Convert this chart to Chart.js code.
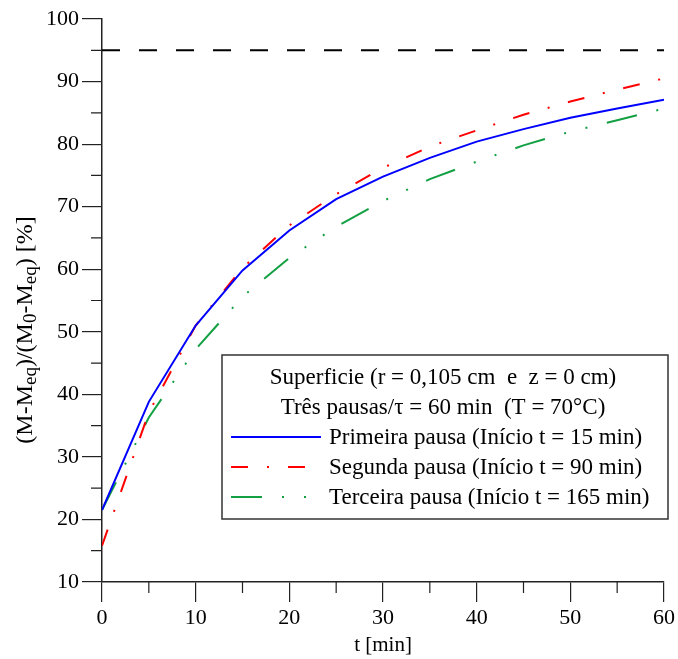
<!DOCTYPE html>
<html>
<head>
<meta charset="utf-8">
<title>Superficie - três pausas</title>
<script src="https://cdn.jsdelivr.net/npm/chart.js@4/dist/chart.umd.min.js"></script>
<style>
  html, body { margin: 0; padding: 0; background: #fff; }
  canvas { display: block; }
</style>
</head>
<body>
<canvas id="grafico" width="678" height="659"></canvas>
<script>
// tempo [min]
const tempos = [0, 5, 10, 15, 20, 25, 30, 35, 40, 45, 50, 55, 60];
// (M-Meq)/(M0-Meq) [%]
const primeiraPausa = [21.5, 38.8, 51.0, 59.8, 66.2, 71.2, 74.8, 77.8, 80.4, 82.4, 84.2, 85.7, 87.1];
const segundaPausa = [15.8, 37.1, 51.0, 60.2, 67.0, 72.0, 76.2, 79.6, 82.2, 84.7, 86.8, 88.7, 90.5];
const terceiraPausa = [21.5, 36.3, 47.2, 55.6, 61.8, 66.8, 70.9, 74.4, 77.2, 79.8, 82.0, 83.8, 85.7];
// linha tracejada de referência
const limiteT = [0, 60];
const limiteY = [95, 95];

const tituloLegenda = ["Superficie (r = 0,105 cm  e  z = 0 cm)", "Três pausas/τ = 60 min  (T = 70°C)"];
const nomesSeries = [
  "Primeira pausa (Início t = 15 min)",
  "Segunda pausa (Início t = 90 min)",
  "Terceira pausa (Início t = 165 min)"
];
const tituloX = "t [min]";
// título do eixo y em pedaços: [texto, é subscrito?]
const tituloY = [["(M-M", false], ["eq", true], [")/(M", false], ["0", true], ["-M", false], ["eq", true], [") [%]", false]];

const FONTE = '"Liberation Serif", "Times New Roman", serif';

function pontos(xs, ys) {
  return xs.map((x, i) => ({ x: x, y: ys[i] }));
}

// marcas menores (a cada 5) nos dois eixos
const marcasMenores = {
  id: "marcasMenores",
  afterDraw(chart) {
    const ctx = chart.ctx;
    const sx = chart.scales.x;
    const sy = chart.scales.y;
    ctx.save();
    ctx.strokeStyle = "#222";
    ctx.lineWidth = 1.2;
    ctx.beginPath();
    for (let v = sx.min + 5; v < sx.max; v += 10) {
      const px = sx.getPixelForValue(v);
      ctx.moveTo(px, sy.bottom);
      ctx.lineTo(px, sy.bottom + 11);
    }
    for (let v = sy.min + 5; v < sy.max; v += 10) {
      const py = sy.getPixelForValue(v);
      ctx.moveTo(sx.left, py);
      ctx.lineTo(sx.left - 11, py);
    }
    ctx.stroke();
    ctx.restore();
  }
};

// título do eixo y com subscritos
const tituloEixoY = {
  id: "tituloEixoY",
  afterDraw(chart) {
    const ctx = chart.ctx;
    ctx.save();
    ctx.fillStyle = "#000";
    ctx.textBaseline = "middle";
    ctx.textAlign = "left";
    const normal = "24px " + FONTE;
    const sub = "19px " + FONTE;
    let total = 0;
    tituloY.forEach(p => {
      ctx.font = p[1] ? sub : normal;
      total += ctx.measureText(p[0]).width;
    });
    ctx.translate(26, 330);
    ctx.rotate(-Math.PI / 2);
    let pos = -total / 2;
    tituloY.forEach(p => {
      ctx.font = p[1] ? sub : normal;
      ctx.fillText(p[0], pos, p[1] ? 5 : 0);
      pos += ctx.measureText(p[0]).width;
    });
    ctx.restore();
  }
};

// legenda desenhada à mão (caixa dentro do gráfico)
const legendaCaixa = {
  id: "legendaCaixa",
  afterDraw(chart) {
    const ctx = chart.ctx;
    const x0 = 222, y0 = 355, x1 = 668, y1 = 519;
    ctx.save();
    ctx.fillStyle = "#fff";
    ctx.fillRect(x0, y0, x1 - x0, y1 - y0);
    ctx.strokeStyle = "#333";
    ctx.lineWidth = 1.5;
    ctx.strokeRect(x0, y0, x1 - x0, y1 - y0);

    ctx.fillStyle = "#000";
    ctx.font = "23px " + FONTE;
    ctx.textBaseline = "middle";
    ctx.textAlign = "center";
    ctx.fillText(tituloLegenda[0], 443, 378);
    ctx.fillText(tituloLegenda[1], 443, 408);

    ctx.textAlign = "left";
    for (let i = 0; i < nomesSeries.length; i++) {
      const ds = chart.data.datasets[i];
      const yy = 437 + i * 30;
      ctx.strokeStyle = ds.borderColor;
      ctx.lineWidth = ds.borderWidth;
      ctx.setLineDash(ds.borderDash || []);
      ctx.beginPath();
      ctx.moveTo(231, yy);
      ctx.lineTo(321, yy);
      ctx.stroke();
      ctx.setLineDash([]);
      ctx.fillText(nomesSeries[i], 329, yy + 1);
    }
    ctx.restore();
  }
};

const grafico = new Chart(document.getElementById("grafico"), {
  type: "line",
  data: {
    datasets: [
      {
        label: nomesSeries[0],
        data: pontos(tempos, primeiraPausa),
        borderColor: "#0000ff",
        borderWidth: 2,
        borderDash: []
      },
      {
        label: nomesSeries[1],
        data: pontos(tempos, segundaPausa),
        borderColor: "#ff0000",
        borderWidth: 2,
        borderDash: [17, 19, 2, 19]
      },
      {
        label: nomesSeries[2],
        data: pontos(tempos, terceiraPausa),
        borderColor: "#13a043",
        borderWidth: 2,
        borderDash: [31, 20, 2, 20, 2, 20]
      },
      {
        label: "95 %",
        data: pontos(limiteT, limiteY),
        borderColor: "#000",
        borderWidth: 2,
        borderDash: [18, 19]
      }
    ]
  },
  options: {
    responsive: false,
    animation: false,
    devicePixelRatio: 1,
    elements: {
      point: { radius: 0 },
      line: { tension: 0, fill: false }
    },
    layout: { padding: { top: 19, right: 13.5, left: 0, bottom: 0 } },
    plugins: {
      legend: { display: false },
      tooltip: { enabled: false }
    },
    scales: {
      x: {
        type: "linear",
        min: 0,
        max: 60,
        afterFit: (s) => { s.height = 77; },
        ticks: {
          stepSize: 10,
          maxRotation: 0,
          padding: 3,
          color: "#000",
          font: { family: FONTE, size: 22 }
        },
        grid: { drawOnChartArea: false, tickLength: 20, color: "#222", lineWidth: 1.2 },
        border: { display: true, color: "#222", width: 1.5 },
        title: {
          display: true,
          text: tituloX,
          color: "#000",
          font: { family: FONTE, size: 21 },
          padding: { top: 0, bottom: 1 }
        }
      },
      y: {
        type: "linear",
        min: 10,
        max: 100,
        afterFit: (s) => { s.width = 102; },
        ticks: {
          stepSize: 10,
          padding: 3,
          color: "#000",
          font: { family: FONTE, size: 22 }
        },
        grid: { drawOnChartArea: false, tickLength: 20, color: "#222", lineWidth: 1.2 },
        border: { display: true, color: "#222", width: 1.5 }
      }
    }
  },
  plugins: [marcasMenores, tituloEixoY, legendaCaixa]
});
</script>
</body>
</html>
